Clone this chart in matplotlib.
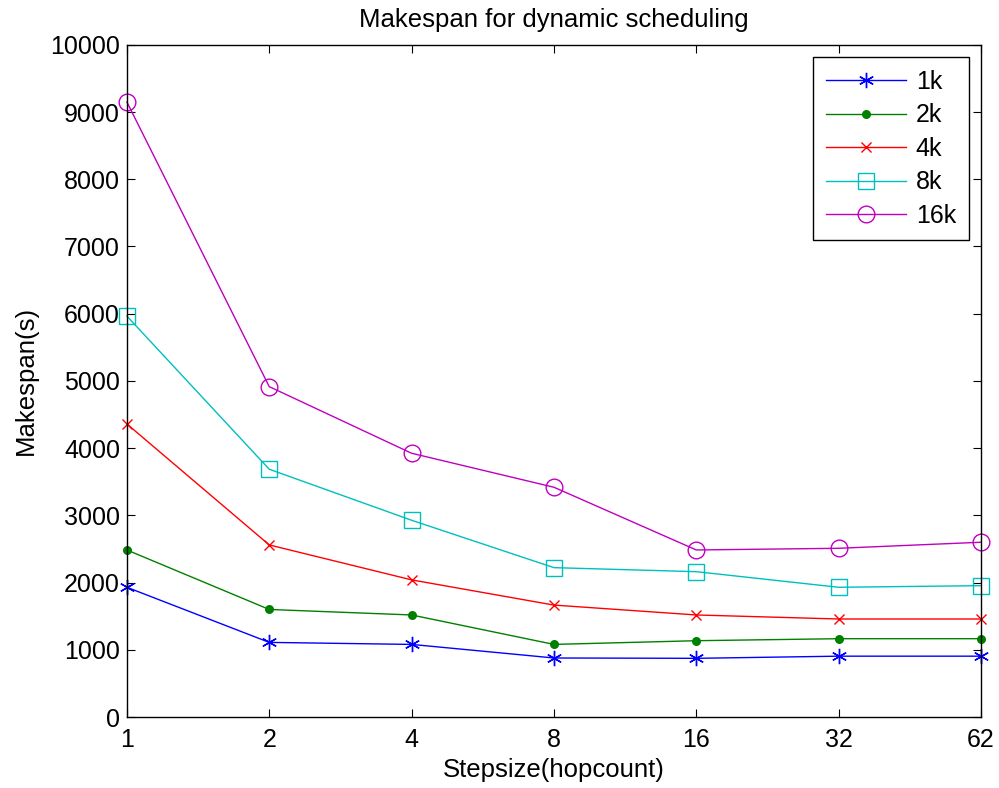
import numpy as np
import matplotlib
matplotlib.use("Agg")
import matplotlib.pyplot as plt

plt.rcParams['font.family'] = ['Liberation Sans', 'DejaVu Sans']

# Data
stepsizes = ["1", "2", "4", "8", "16", "32", "62"]
ms_1k  = [1930, 1110, 1080,  878,  873,  905,  905]
ms_2k  = [2485, 1600, 1518, 1080, 1135, 1165, 1165]
ms_4k  = [4360, 2560, 2040, 1665, 1518, 1458, 1458]
ms_8k  = [5965, 3686, 2927, 2222, 2162, 1930, 1954]
ms_16k = [9150, 4915, 3924, 3418, 2485, 2510, 2600]
labels = ["1k", "2k", "4k", "8k", "16k"]

x = np.arange(1, len(stepsizes) + 1)

fig = plt.figure(figsize = (9.99, 7.88), dpi = 100)
ax = fig.add_axes([0.127, 0.0901, 0.855, 0.853])

styles = [
    dict(color = (0, 0, 1),       marker = (6, 2, 0), markersize = 11, mew = 1.0),
    dict(color = (0, 0.5, 0),     marker = 'o', markersize = 6.5, mew = 0),
    dict(color = (1, 0, 0),       marker = 'x', markersize = 7, mew = 1.0),
    dict(color = (0, 0.75, 0.75), marker = 's', markersize = 12, mfc = 'none', mew = 1.0),
    dict(color = (0.75, 0, 0.75), marker = 'o', markersize = 12, mfc = 'none', mew = 1.0),
]
series = [ms_1k, ms_2k, ms_4k, ms_8k, ms_16k]

for vals, lab, st in zip(series, labels, styles):
    ax.plot(x, vals, linewidth = 1.0, label = lab, clip_on = False, **st)

ax.set_xlim(1, len(stepsizes))
ax.set_ylim(0, 10000)
ax.set_xticks(x)
ax.set_xticklabels(stepsizes)
ax.set_yticks(np.arange(0, 10001, 1000))

ax.tick_params(direction = 'in', top = True, right = True, length = 6, width = 0.8,
               labelsize = 18)
ax.tick_params(axis = 'x', pad = 8)
ax.tick_params(axis = 'y', pad = 5)
for sp in ax.spines.values():
    sp.set_linewidth(1.0)

ax.set_title("Makespan for dynamic scheduling", fontsize = 18.5, pad = 13)
ax.set_xlabel("Stepsize(hopcount)", fontsize = 18.5, labelpad = 4)
ax.set_ylabel("Makespan(s)", fontsize = 18.5, labelpad = 9)

leg = ax.legend(loc = 'upper right', fontsize = 18, fancybox = False, framealpha = 1,
                edgecolor = 'black', handlelength = 3.2, handletextpad = 0.4,
                borderaxespad = 0.5, borderpad = 0.5, labelspacing = 0.38)
leg.get_frame().set_linewidth(1.0)

fig.savefig("out.png", dpi = 100)
